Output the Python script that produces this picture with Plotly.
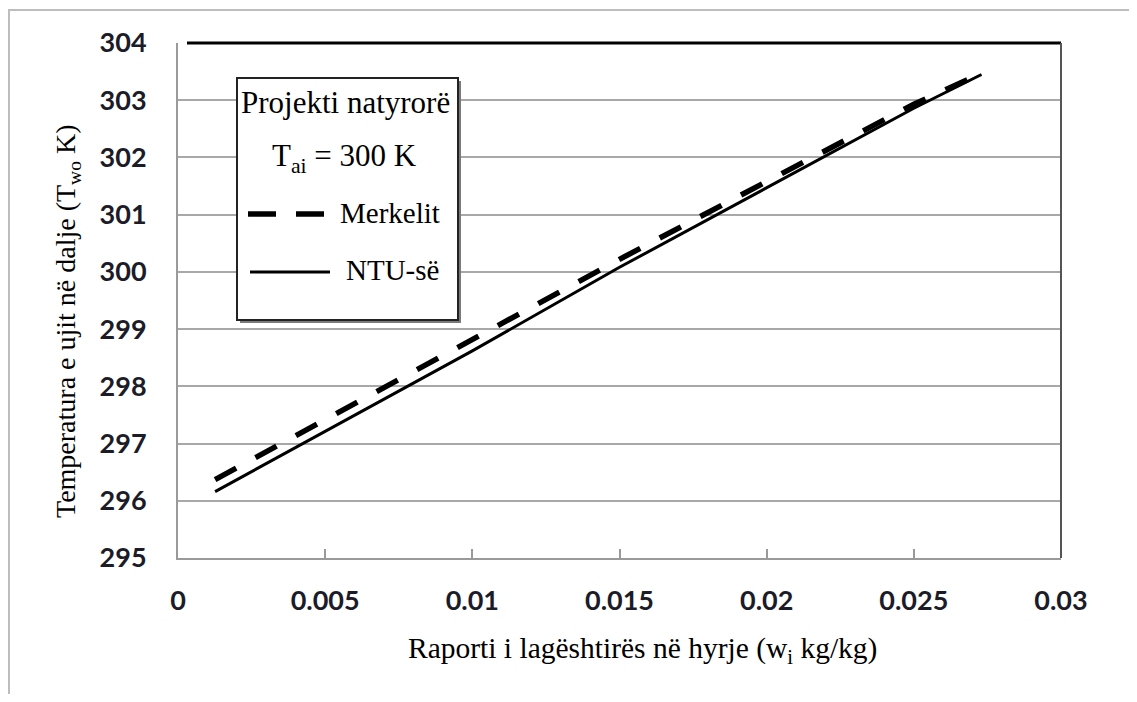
import plotly.graph_objects as go

# Data
x_ntu = [0.00126, 0.005, 0.01, 0.015, 0.02, 0.025, 0.0273]
y_ntu = [296.16, 297.21, 298.62, 300.08, 301.47, 302.86, 303.45]
x_merkel = [0.00126, 0.005, 0.01, 0.015, 0.02, 0.025, 0.0273]
y_merkel = [296.37, 297.42, 298.82, 300.22, 301.58, 302.93, 303.47]

x_ticks = [0, 0.005, 0.01, 0.015, 0.02, 0.025, 0.03]
x_tick_labels = ["0", "0.005", "0.01", "0.015", "0.02", "0.025", "0.03"]
y_ticks = [295, 296, 297, 298, 299, 300, 301, 302, 303, 304]

x_title = "Raporti i lagështirës në hyrje (w<sub>i</sub> kg/kg)"
y_title = "Temperatura e ujit në dalje (T<sub>wo</sub> K)"

OFF = 8  # page body margin
W, H = 1137 - OFF, 702 - 2 * OFF
L, R, T, B = 178 - OFF, 1061 - OFF, 43 - OFF, 558 - OFF


def px(xs):
    return (xs - OFF - L) / (R - L)


def py(ys):
    return (B - (ys - OFF)) / (B - T)


fig = go.Figure()
fig.add_trace(go.Scatter(x=x_ntu, y=y_ntu, mode="lines", name="NTU-së",
                         line=dict(color="black", width=3)))
fig.add_trace(go.Scatter(x=x_merkel, y=y_merkel, mode="lines", name="Merkelit",
                         line=dict(color="black", width=5.5, dash="24px,22px")))

shapes = []
# outer border
shapes.append(dict(type="rect", xref="paper", yref="paper",
                   x0=px(9), x1=px(1135), y0=py(730), y1=py(10),
                   line=dict(color="#bdbdbd", width=2), layer="below"))
# top black line and right border
shapes.append(dict(type="line", xref="paper", yref="paper",
                   x0=px(187), x1=1, y0=1, y1=1,
                   line=dict(color="black", width=3)))
shapes.append(dict(type="line", xref="paper", yref="paper",
                   x0=1, x1=1, y0=0, y1=1,
                   line=dict(color="#555555", width=2)))
# legend box shadow and box
shapes.append(dict(type="rect", xref="paper", yref="paper",
                   x0=px(240), x1=px(461), y0=py(323), y1=py(81),
                   fillcolor="#7a7a7a", line=dict(width=0)))
shapes.append(dict(type="rect", xref="paper", yref="paper",
                   x0=px(237), x1=px(458), y0=py(320), y1=py(78),
                   fillcolor="white", line=dict(color="#222222", width=2)))
# legend samples
shapes.append(dict(type="line", xref="paper", yref="paper",
                   x0=px(248), x1=px(326), y0=py(214), y1=py(214),
                   line=dict(color="black", width=5.5, dash="28px,20px")))
shapes.append(dict(type="line", xref="paper", yref="paper",
                   x0=px(250), x1=px(330), y0=py(272), y1=py(272),
                   line=dict(color="black", width=3)))

serif = "Liberation Serif"
annotations = [
    dict(text="Projekti natyrorë", x=px(345), y=py(103), size=31),
    dict(text="T<sub>ai</sub> = 300 K", x=px(344), y=py(158), size=31),
    dict(text="Merkelit", x=px(338), y=py(213), xanchor="left", size=29),
    dict(text="NTU-së", x=px(344), y=py(270), xanchor="left", size=29),
    dict(text=x_title, x=px(642), y=py(650), size=29.5),
    dict(text=y_title, x=px(67), y=py(321), size=28, textangle=-90),
]
for a in annotations:
    s = a.pop("size")
    a.update(xref="paper", yref="paper", showarrow=False,
             font=dict(family=serif, size=s, color="black"))
    a.setdefault("xanchor", "center")
    a["yanchor"] = "middle"

tickfont = dict(family="Lato", size=27, color="#1c1c28", weight="bold")

fig.update_layout(
    width=W, height=H,
    margin=dict(l=L, r=W - R, t=T, b=H - B),
    paper_bgcolor="white", plot_bgcolor="white",
    showlegend=False,
    shapes=shapes, annotations=annotations,
    xaxis=dict(range=[0, 0.03], tickvals=x_ticks, ticktext=x_tick_labels,
               showgrid=False, zeroline=False, showline=True,
               linecolor="#9a9a9a", linewidth=2,
               ticks="inside", ticklen=9, tickcolor="#9a9a9a", tickwidth=2,
               ticklabelstandoff=18,
               tickfont=tickfont),
    yaxis=dict(range=[295, 304], tickvals=y_ticks,
               showgrid=True, gridcolor="#a8a8a8", gridwidth=2,
               zeroline=False, showline=True, linecolor="#9a9a9a", linewidth=2,
               ticks="", ticklabelstandoff=24,
               tickfont=tickfont),
)

fig.write_html("out.html")
